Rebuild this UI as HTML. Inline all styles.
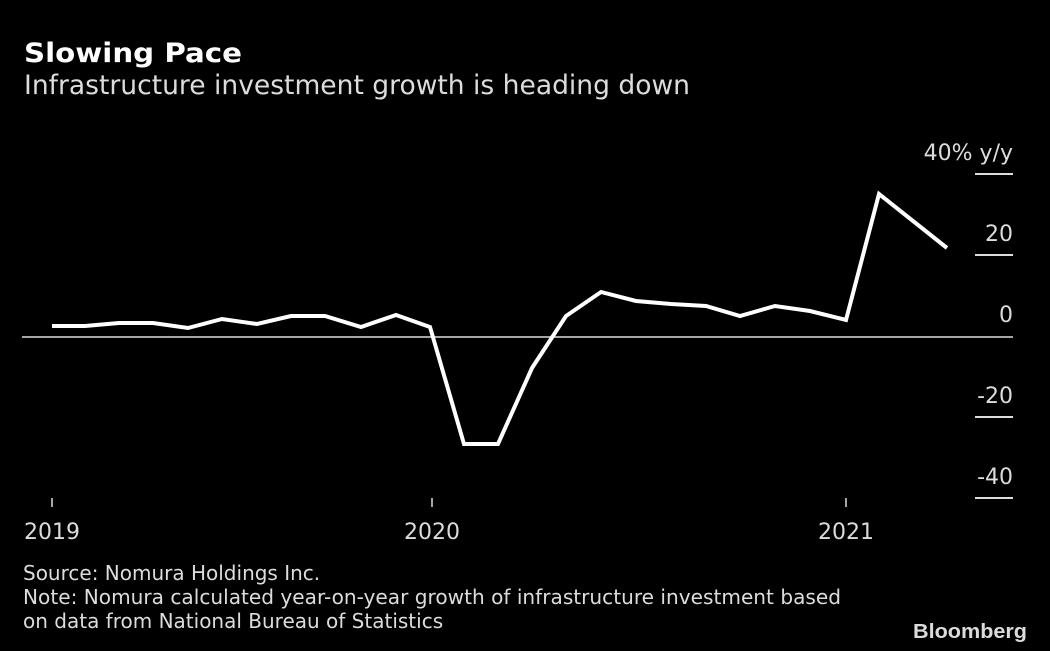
<!DOCTYPE html>
<html><head><meta charset="utf-8"><style>
html,body{margin:0;padding:0;background:#000;}
svg{display:block;}
text{font-family:"DejaVu Sans","Liberation Sans",sans-serif;fill:#dcdcdc;}
</style></head><body>
<svg width="1050" height="651" viewBox="0 0 1050 651" xmlns="http://www.w3.org/2000/svg">
<rect width="1050" height="651" fill="#000"/>
<text x="24" y="62" font-size="27" font-weight="bold" fill="#fff" style="fill:#fff" textLength="218" lengthAdjust="spacingAndGlyphs">Slowing Pace</text>
<text x="24" y="94" font-size="27" textLength="666" lengthAdjust="spacingAndGlyphs">Infrastructure investment growth is heading down</text>
<g stroke="#dcdcdc" stroke-width="2">
<line x1="975" y1="174" x2="1013" y2="174"/>
<line x1="975" y1="255" x2="1013" y2="255"/>
<line x1="975" y1="417" x2="1013" y2="417"/>
<line x1="975" y1="498" x2="1013" y2="498"/>
</g>
<line x1="22" y1="337" x2="1013" y2="337" stroke="#dcdcdc" stroke-width="1.5"/>
<g font-size="22" text-anchor="end">
<text x="1013" y="160">40% y/y</text>
<text x="1013" y="241">20</text>
<text x="1013" y="322">0</text>
<text x="1013" y="403">-20</text>
<text x="1013" y="484">-40</text>
</g>
<g stroke="#dcdcdc" stroke-width="1.5">
<line x1="52" y1="498" x2="52" y2="507"/>
<line x1="432" y1="498" x2="432" y2="507"/>
<line x1="846" y1="498" x2="846" y2="507"/>
</g>
<g font-size="22" text-anchor="middle">
<text x="52" y="539">2019</text>
<text x="432" y="539">2020</text>
<text x="846" y="539">2021</text>
</g>
<polyline fill="none" stroke="#fff" stroke-width="4" stroke-linejoin="miter" points="52,326 85,326 119,323 153,323 188,328 222,319 257,324 291,316 325,316 361,327 396,315 430,327 464,444 498,444 532,368 566,316 601,292 636,301 671,304 706,306 740,316 775,306 810,311 846,320 879,194 947,248"/>
<g font-size="20">
<text x="23" y="580">Source: Nomura Holdings Inc.</text>
<text x="23" y="604" textLength="818" lengthAdjust="spacingAndGlyphs">Note: Nomura calculated year-on-year growth of infrastructure investment based</text>
<text x="23" y="628">on data from National Bureau of Statistics</text>
</g>
<text x="1027" y="638" font-size="20" font-weight="bold" text-anchor="end" style="font-family:'Liberation Sans',sans-serif" textLength="114" lengthAdjust="spacingAndGlyphs">Bloomberg</text>
</svg>
</body></html>
